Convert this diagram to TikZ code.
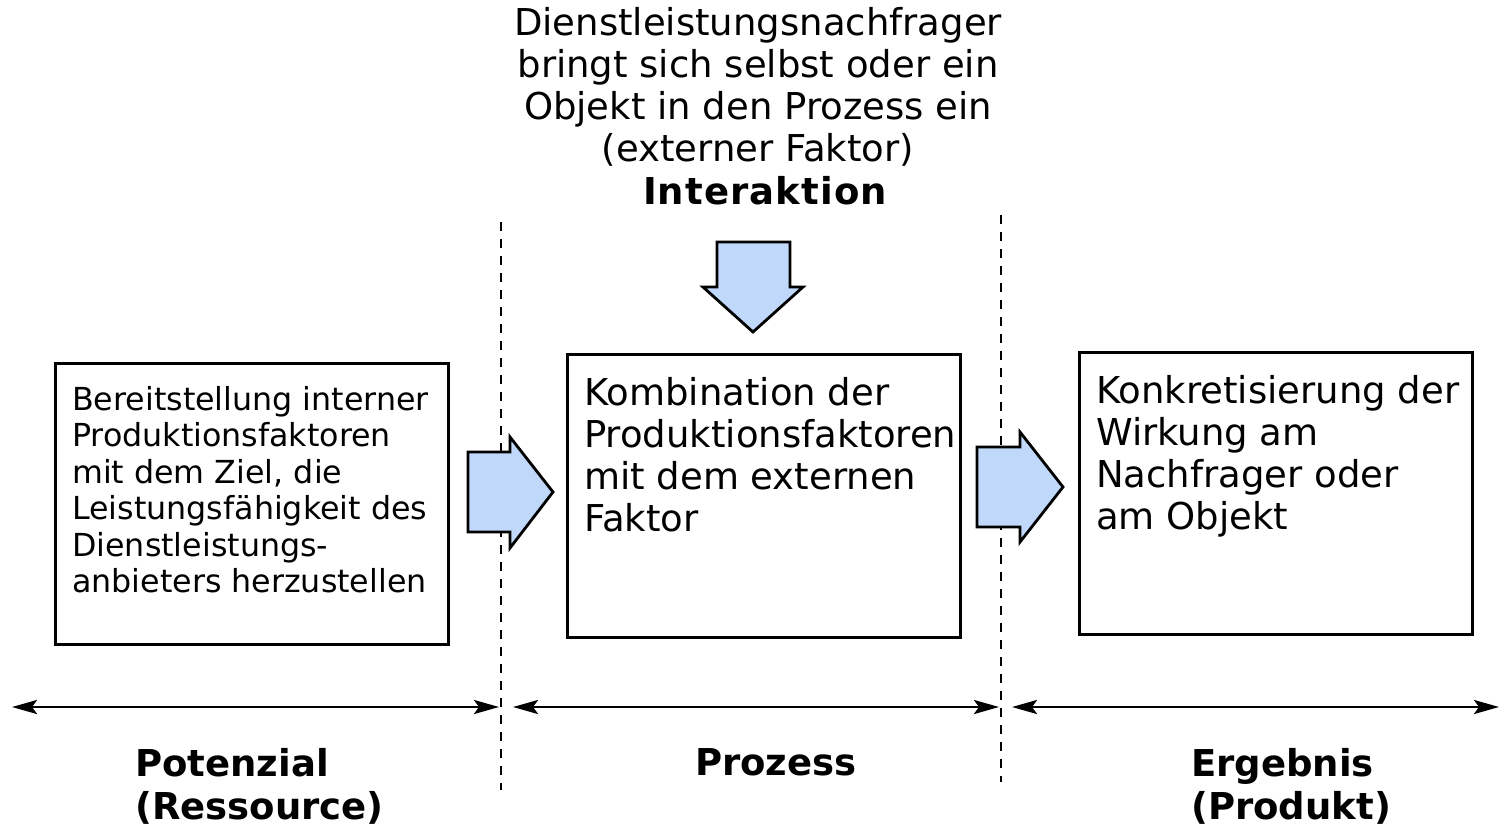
\documentclass[tikz,border=0pt]{standalone}
\usepackage{fontspec}
\setmainfont{DejaVu Sans}
\usetikzlibrary{arrows.meta}
\definecolor{arrowblue}{RGB}{192,216,250}
\begin{document}
\begin{tikzpicture}[x=1pt,y=-1pt,
  box/.style={draw, line width=2.8pt, inner sep=0pt, anchor=north west},
  bigtext/.style={font=\fontsize{37}{42}\selectfont, inner sep=0pt, align=left, anchor=north west},
  smalltext/.style={font=\fontsize{31.7}{36.5}\selectfont, inner sep=0pt, align=left, anchor=north west},
  boldtext/.style={font=\fontsize{37}{43}\selectfont\bfseries, inner sep=0pt, align=left, anchor=north west},
  blockarrow/.style={draw, line width=2.8pt, fill=arrowblue, line join=miter},
  divider/.style={line width=2.6pt, dash pattern=on 9pt off 8pt},
  span/.style={line width=2.8pt, >={Stealth[length=25pt,width=14pt,inset=5pt]}, <->}
]
\useasboundingbox (0,0) rectangle (1504,832);

% boxes
\node[box, minimum width=393pt, minimum height=281pt] (b1) at (54,362) {};
\node[box, minimum width=393pt, minimum height=283pt] (b2) at (566,353) {};
\node[box, minimum width=393pt, minimum height=282pt] (b3) at (1078,351) {};

% box texts
\node[smalltext] (t1) at (72,386) {Bereitstellung interner\\Produktionsfaktoren\\mit dem Ziel, die\\Leistungsfähigkeit des\\Dienstleistungs-\\anbieters herzustellen};
\node[bigtext] (t2) at (584,377) {Kombination der\\Produktionsfaktoren\\mit dem externen\\Faktor};
\node[bigtext] (t3) at (1096,375) {Konkretisierung der\\Wirkung am\\Nachfrager oder\\am Objekt};

% top text
\node[font=\fontsize{37}{42}\selectfont, inner sep=0pt, align=center, anchor=north] (top) at (758,7) {Dienstleistungsnachfrager\\bringt sich selbst oder ein\\Objekt in den Prozess ein\\(externer Faktor)};
\node[font=\fontsize{37}{43}\selectfont\bfseries\addfontfeature{LetterSpace=3}, inner sep=0pt, anchor=north] (inter) at (765,176) {Interaktion};

% dividers
\coordinate (d1t) at (501,222); \coordinate (d1b) at (501,790);
\coordinate (d2t) at (1001,215); \coordinate (d2b) at (1001,782);
\draw[divider] (d1t) -- (d1b);
\draw[divider] (d2t) -- (d2b);

% block arrows
\draw[blockarrow] (468,452) -- (510,452) -- (510,437) -- (553,492) -- (510,548) -- (510,532) -- (468,532) -- cycle;
\draw[blockarrow] (977,447) -- (1020,447) -- (1020,432) -- (1063,487) -- (1020,542) -- (1020,527) -- (977,527) -- cycle;
\draw[blockarrow] (717,242) -- (790,242) -- (790,287) -- (803,287) -- (753,332) -- (703,287) -- (717,287) -- cycle;

% span arrows
\coordinate (s1l) at (12,707); \coordinate (s1r) at (499,707);
\coordinate (s2l) at (513,707); \coordinate (s2r) at (999,707);
\coordinate (s3l) at (1012,707); \coordinate (s3r) at (1499,707);
\draw[span] (s1l) -- (s1r);
\draw[span] (s2l) -- (s2r);
\draw[span] (s3l) -- (s3r);

% bottom labels
\node[boldtext] (l1) at (135,748) {Potenzial\\(Ressource)};
\node[boldtext] (l2) at (695,748) {Prozess};
\node[boldtext] (l3) at (1191,748) {Ergebnis\\(Produkt)};
\end{tikzpicture}
\end{document}
